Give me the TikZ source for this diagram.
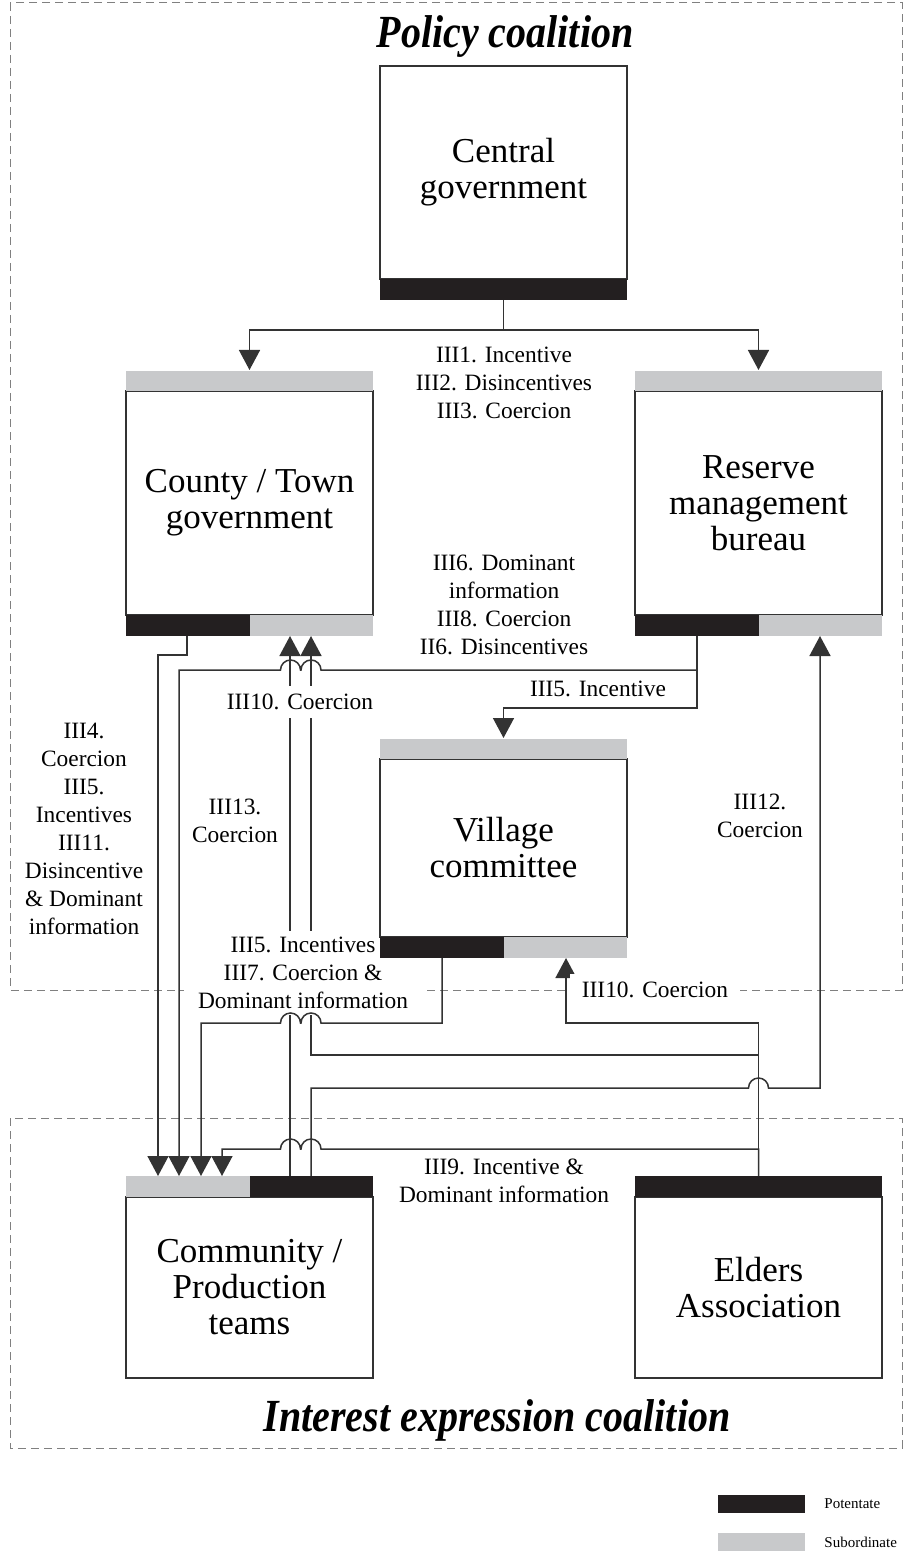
\documentclass[tikz,border=0pt]{standalone}
\usepackage{fontspec}
\setmainfont{Liberation Serif}
\usepackage{graphicx}
\usetikzlibrary{arrows.meta,positioning}

\definecolor{potentate}{HTML}{231F20}
\definecolor{subordinate}{HTML}{C8C9CB}
\definecolor{linegray}{HTML}{333333}

\pgfdeclarelayer{background}
\pgfsetlayers{background,main}

\begin{document}
\begin{tikzpicture}[
  x=0.5pt, y=-0.5pt,
  >={Triangle[length=10pt,width=10.5pt]},
  actor/.style={draw=linegray, line width=0.75pt, outer sep=0pt, inner sep=0pt,
    minimum width=123.5pt, align=center, font=\fontsize{17.5}{18}\selectfont},
  flow/.style={->, draw=linegray, line width=0.75pt},
  coalition/.style={draw=gray, dash pattern=on 4pt off 2.5pt, line width=0.5pt},
  note/.style={align=center, font=\fontsize{11.7}{14}\selectfont, inner sep=1pt},
  cover/.style={note, fill=white, inner xsep=6pt, inner ysep=4pt},
  title/.style={font=\fontsize{20}{24}\selectfont\bfseries\itshape},
  keybox/.style={minimum width=43.5pt, minimum height=9pt, inner sep=0pt},
  legend/.style={font=\fontsize{7.5}{9}\selectfont}
]
\useasboundingbox (0,0) rectangle (905,1551);

% Coalition titles.
\node[title] (t-policy) at (505,37) {\scalebox{1}[1.15]{Policy coalition}};
\node[title] (t-interest) at (497,1420) {\scalebox{1}[1.15]{Interest expression coalition}};

% Actors.
\node[actor, minimum height=106.5pt] (cg) at (503.5,172.5) {Central\\government};
\node[actor, minimum height=112pt] (ctg) at (249.5,503) {County / Town\\government};
\node[actor, minimum height=112pt] (rmb) at (758.5,503) {Reserve\\management\\bureau};
\node[actor, minimum height=89pt] (vc) at (503.5,848) {Village\\committee};
\node[actor, minimum height=90.5pt] (cpt) at (249.5,1287.5) {Community /\\Production\\teams};
\node[actor, minimum height=90.5pt] (ea) at (758.5,1287.5) {Elders\\Association};

% Potentate / subordinate bars.
\fill[potentate] (cg.south west) rectangle ([yshift=-10.5pt]cg.south east);
\fill[subordinate] ([yshift=10pt]ctg.north west) rectangle (ctg.north east);
\fill[potentate] (ctg.south west) rectangle ([yshift=-10.5pt]ctg.south);
\fill[subordinate] (ctg.south) rectangle ([yshift=-10.5pt]ctg.south east);
\fill[subordinate] ([yshift=10pt]rmb.north west) rectangle (rmb.north east);
\fill[potentate] (rmb.south west) rectangle ([yshift=-10.5pt]rmb.south);
\fill[subordinate] (rmb.south) rectangle ([yshift=-10.5pt]rmb.south east);
\fill[subordinate] ([yshift=10pt]vc.north west) rectangle (vc.north east);
\fill[potentate] (vc.south west) rectangle ([yshift=-10.5pt]vc.south);
\fill[subordinate] (vc.south) rectangle ([yshift=-10.5pt]vc.south east);
\fill[subordinate] ([yshift=10.5pt]cpt.north west) rectangle (cpt.north);
\fill[potentate] ([yshift=10.5pt]cpt.north) rectangle (cpt.north east);
\fill[potentate] ([yshift=10.5pt]ea.north west) rectangle (ea.north east);

% Ports on the bars.
\coordinate (cg-out) at ([yshift=-10.5pt]cg.south);
\coordinate (ctg-in) at ([yshift=10.5pt]ctg.north);
\coordinate (rmb-in) at ([yshift=10.5pt]rmb.north);
\coordinate (ctg-out) at ([xshift=30.5pt,yshift=-10.5pt]ctg.south west);
\coordinate (ctg-up1) at ([xshift=82pt,yshift=-10.5pt]ctg.south west);
\coordinate (ctg-up2) at ([xshift=92.5pt,yshift=-10.5pt]ctg.south west);
\coordinate (rmb-out) at ([xshift=31pt,yshift=-10.5pt]rmb.south west);
\coordinate (rmb-up) at ([xshift=92.5pt,yshift=-10.5pt]rmb.south west);
\coordinate (vc-in) at ([yshift=10.5pt]vc.north);
\coordinate (vc-out) at ([xshift=31pt,yshift=-10.5pt]vc.south west);
\coordinate (vc-up) at ([xshift=93pt,yshift=-10.5pt]vc.south west);
\coordinate (cpt-in1) at ([xshift=16pt,yshift=10.5pt]cpt.north west);
\coordinate (cpt-in2) at ([xshift=26.5pt,yshift=10.5pt]cpt.north west);
\coordinate (cpt-in3) at ([xshift=37.5pt,yshift=10.5pt]cpt.north west);
\coordinate (cpt-in4) at ([xshift=48pt,yshift=10.5pt]cpt.north west);
\coordinate (cpt-out1) at ([xshift=82pt,yshift=10.5pt]cpt.north west);
\coordinate (cpt-out2) at ([xshift=92.5pt,yshift=10.5pt]cpt.north west);
\coordinate (ea-out) at ([yshift=10.5pt]ea.north);

\begin{pgfonlayer}{background}
% Coalition frames.
\draw[coalition] (10,3) rectangle (902,990);
\draw[coalition] (10,1118) rectangle (902,1448);

% Top-down instruments.
\draw[flow] (cg-out) -- ++(0,30) -| (ctg-in);
\draw[flow] (cg-out) -- ++(0,30) -| (rmb-in);
\draw[flow] (ctg-out) -- ++(0,19) -| (cpt-in1);
\draw[flow] (rmb-out) -- ++(0,72) -| (vc-in);
\draw[flow] (rmb-out) -- ++(0,34) -- (321,670)
  arc[start angle=0,end angle=180,radius=5pt] -- (300.5,670)
  arc[start angle=0,end angle=180,radius=5pt] -| (cpt-in2);

% Bottom-up instruments.
\draw[flow] (cpt-out1) -- (ctg-up1);
\draw[flow] (ea-out) |- (311,1055) -- (ctg-up2);
\draw[flow] (ea-out) -- ++(0,-153) -| (vc-up);
\draw[flow] (cpt-out2) |- (748.5,1088)
  arc[start angle=180,end angle=0,radius=5pt] -| (rmb-up);
\draw[flow] (ea-out) |- (321,1149)
  arc[start angle=0,end angle=180,radius=5pt] -- (300.5,1149)
  arc[start angle=0,end angle=180,radius=5pt] -| (cpt-in4);

% Instrument labels.
\node[note] (l-central) at (504,383) {III1. Incentive\\III2. Disincentives\\III3. Coercion};
\node[note] (l-reserve) at (504,605) {III6. Dominant\\information\\III8. Coercion\\II6. Disincentives};
\node[note] (l-village) at (598,689) {III5. Incentive};
\node[cover] (l-up1) at (300,702) {III10. Coercion};
\node[note] (l-up2) at (235,821) {III13.\\Coercion};
\node[note] (l-county) at (84,829) {III4.\\Coercion\\III5.\\Incentives\\III11.\\Disincentive\\\& Dominant\\information};
\node[note] (l-elders) at (760,816) {III12.\\Coercion};
\node[cover, inner xsep=7pt, inner ysep=3pt] (l-vc) at (303,973) {III5. Incentives\\III7. Coercion \&\\Dominant information};
\node[cover] (l-ea) at (655,990) {III10. Coercion};
\node[note] (l-ea2) at (504,1181) {III9. Incentive \&\\Dominant information};

% Village committee to community.
\draw[flow] (vc-out) |- (321,1023)
  arc[start angle=0,end angle=180,radius=5pt] -- (300.5,1023)
  arc[start angle=0,end angle=180,radius=5pt] -| (cpt-in3);
\end{pgfonlayer}

% Legend.
\node[keybox, fill=potentate] (key-pot) at (761.5,1504) {};
\node[legend, right=6pt of key-pot] (key-pot-txt) {Potentate};
\node[keybox, fill=subordinate] (key-sub) at (761.5,1542) {};
\node[legend, right=6pt of key-sub] (key-sub-txt) {Subordinate};

\end{tikzpicture}
\end{document}
